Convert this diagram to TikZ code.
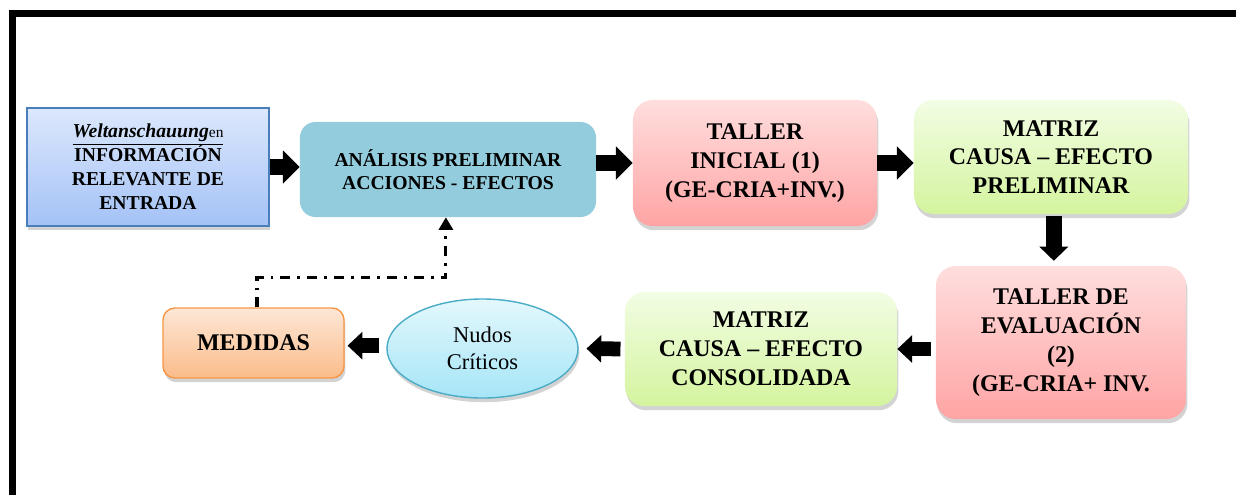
\documentclass[tikz,border=0pt]{standalone}
\usepackage{fontspec}
\setmainfont{Liberation Serif}
\usetikzlibrary{shapes.geometric, arrows.meta, shadows}

\definecolor{bluetop}{HTML}{DCE8FC}
\definecolor{bluebot}{HTML}{A4C2F6}
\definecolor{blueline}{HTML}{4A7EBB}
\definecolor{tealfill}{HTML}{93CDDD}
\definecolor{pinktop}{HTML}{FFDEDE}
\definecolor{pinkbot}{HTML}{FFA4A4}
\definecolor{greentop}{HTML}{F2FDE4}
\definecolor{greenbot}{HTML}{D4F49E}
\definecolor{cyantop}{HTML}{E3F8FD}
\definecolor{cyanbot}{HTML}{A6E5F7}
\definecolor{cyanline}{HTML}{4BACC6}
\definecolor{orangetop}{HTML}{FDE7D6}
\definecolor{orangebot}{HTML}{FBBC8A}
\definecolor{orangeline}{HTML}{F79646}

\begin{document}
\begin{tikzpicture}[
  x=0.025cm, y=-0.025cm,
  shade/.style={drop shadow={shadow xshift=1pt, shadow yshift=-3pt, opacity=0.35}},
  box/.style={rectangle, rounded corners=14pt, minimum width=6.1cm, minimum height=3.15cm,
              font=\bfseries\fontsize{17}{20.5}\selectfont, align=center, inner sep=2pt, shade},
  pinkbox/.style={box, top color=pinktop, bottom color=pinkbot},
  greenbox/.style={box, top color=greentop, bottom color=greenbot},
  arrow/.style={-{Triangle[width=23pt,length=12pt]}, line width=12pt},
  downarrow/.style={-{Triangle[width=20pt,length=10pt]}, line width=11pt},
  backarrow/.style={-{Triangle[width=19pt,length=10.5pt]}, line width=10.5pt},
  feedback/.style={-{Triangle[width=10pt,length=9pt]}, line width=2.2pt,
                   dash pattern=on 7pt off 5pt on 2pt off 5pt}
]
  \useasboundingbox (0,0) rectangle (1236,494);
  % frame
  \draw[line width=5pt] (12.5,500) -- (12.5,13.5) -- (1240,13.5);

  \node[rectangle, minimum width=6.05cm, minimum height=2.95cm, draw=blueline, line width=1pt,
        top color=bluetop, bottom color=bluebot, shade, align=center,
        font=\bfseries\fontsize{14}{17}\selectfont] (info) at (148,167)
    {\underline{\textit{Weltanschauung}{\mdseries\fontsize{11}{12}\selectfont en}}\\INFORMACIÓN\\RELEVANTE DE\\ENTRADA};
  \node[rectangle, rounded corners=11pt, minimum width=7.4cm, minimum height=2.375cm,
        fill=tealfill, align=center, font=\bfseries\fontsize{14}{16}\selectfont] (analisis) at (448,169.5)
    {ANÁLISIS PRELIMINAR\\ACCIONES - EFECTOS};
  \node[pinkbox] (taller1) at (755,163) {TALLER\\INICIAL (1)\\(GE-CRIA+INV.)};
  \node[greenbox, minimum width=6.85cm, minimum height=2.85cm] (matriz1) at (1051,157)
    {MATRIZ\\CAUSA – EFECTO\\PRELIMINAR};
  \node[pinkbox, minimum width=6.25cm, minimum height=3.825cm] (taller2) at (1061,342.5)
    {TALLER DE\\EVALUACIÓN\\(2)\\(GE-CRIA+ INV.};
  \node[greenbox, minimum width=6.8cm, minimum height=2.85cm] (matriz2) at (761,349)
    {MATRIZ\\CAUSA – EFECTO\\CONSOLIDADA};
  \node[ellipse, minimum width=4.775cm, minimum height=2.475cm, draw=cyanline, line width=1pt,
        top color=cyantop, bottom color=cyanbot, shade, align=center, inner sep=0pt,
        font=\fontsize{16}{19}\selectfont] (nudos) at (482.5,348.5) {Nudos\\Críticos};
  \node[box, rounded corners=8.5pt, minimum width=4.525cm, minimum height=1.75cm,
        draw=orangeline, line width=1pt, top color=orangetop, bottom color=orangebot] (medidas)
    at (253.5,343) {MEDIDAS};

  \draw[arrow] (info.east) -- (info.east -| analisis.west);
  \draw[arrow] (taller1.west -| analisis.east) -- (taller1.west);
  \draw[arrow] (taller1.east) -- (taller1.east -| matriz1.west);
  \draw[downarrow, shorten <=1pt, shorten >=3.5pt] ([xshift=2pt]matriz1.south)
    -- ([xshift=2pt]matriz1.south |- taller2.north);
  \draw[backarrow, shorten <=3.5pt] (matriz2.east -| taller2.west) -- (matriz2.east);
  \draw[backarrow, shorten <=3pt, shorten >=5.5pt] (matriz2.west) -- (nudos.east);
  \draw[backarrow, shorten <=5pt, shorten >=2pt] ([yshift=2pt]nudos.west)
    -- ([yshift=2pt]nudos.west -| medidas.east);

  \draw[feedback] ([xshift=2.5pt]medidas.north) -- ++(0,-30) -| ([xshift=-1.5pt]analisis.south);
\end{tikzpicture}
\end{document}
